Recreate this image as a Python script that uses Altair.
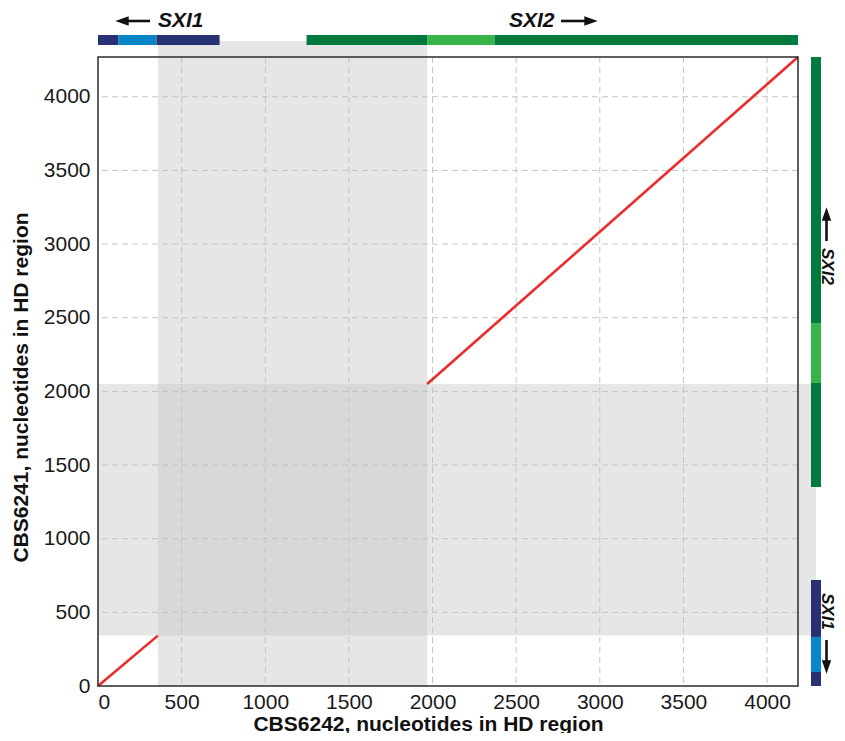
import altair as alt
import pandas as pd

# ---- data ----
X_MAX = 4185
Y_MAX = 4270

# dot-plot match segments (x: CBS6242, y: CBS6241)
seg_id = ["a", "a", "b", "b"]
seg_x = [0, 358, 1968, 4185]
seg_y = [0, 342, 2050, 4270]

# shaded (non-matching) regions
band_x = [358, 1968]
band_y = [342, 2050]

# gene bars along the x axis (top)
top_start = [0, 123, 350, 1247, 1968, 2371]
top_end = [123, 350, 727, 1968, 2371, 4185]
top_part = ["navy", "blue", "navy", "green", "lightgreen", "green"]

# gene bars along the y axis (right)
right_start = [0, 95, 333, 1351, 2057, 2464]
right_end = [95, 333, 720, 2057, 2464, 4270]
right_part = ["navy", "blue", "navy", "green", "lightgreen", "green"]

x_ticks = [500, 1000, 1500, 2000, 2500, 3000, 3500, 4000]
y_ticks = [500, 1000, 1500, 2000, 2500, 3000, 3500, 4000]

part_names = ["navy", "blue", "green", "lightgreen"]
part_colors = ["#283171", "#0b85c9", "#007a3e", "#38b449"]

X_TITLE = "CBS6242, nucleotides in HD region"
Y_TITLE = "CBS6241, nucleotides in HD region"

W, H = 700, 629
FONT = "Liberation Sans"

xs = alt.Scale(domain=[0, X_MAX], nice=False, zero=False)
ys = alt.Scale(domain=[0, Y_MAX], nice=False, zero=False)
x_axis = alt.Axis(title=X_TITLE, values=[0] + x_ticks, format="d", titleX=330)
y_axis = alt.Axis(title=Y_TITLE, values=[0] + y_ticks, format="d", titleY=330)
col = alt.Color("part:N", scale=alt.Scale(domain=part_names, range=part_colors), legend=None)


def X(f):
    return alt.X(f, type="quantitative", scale=xs, axis=x_axis)


def Y(f):
    return alt.Y(f, type="quantitative", scale=ys, axis=y_axis)


seg_df = pd.DataFrame({"seg": seg_id, "x": seg_x, "y": seg_y})
band_df = pd.DataFrame({"x0": [band_x[0]], "x1": [band_x[1]], "y0": [band_y[0]], "y1": [band_y[1]]})
top_df = pd.DataFrame({"s": top_start, "e": top_end, "part": top_part})
right_df = pd.DataFrame({"s": right_start, "e": right_end, "part": right_part})
xt_df = pd.DataFrame({"t": x_ticks})
yt_df = pd.DataFrame({"t": y_ticks})

GREY = "#e6e6e6"
GREY2 = "#d8d8d8"
RB0, RB1 = 713, 723      # right gene bar, px from plot left
RX = 728.5               # right labels centre, px from plot left

vband = alt.Chart(band_df).mark_rect(color=GREY).encode(
    x=X("x0"), x2="x1", y=alt.value(-16), y2=alt.value(H))
hband = alt.Chart(band_df).mark_rect(color=GREY).encode(
    y=Y("y0"), y2="y1", x=alt.value(0), x2=alt.value((RB0 + RB1) / 2))
overlap = alt.Chart(band_df).mark_rect(color=GREY2).encode(
    x=X("x0"), x2="x1", y=Y("y0"), y2="y1")

xgrid = alt.Chart(xt_df).mark_rule(color="#c4c4c4", strokeDash=[6, 4], strokeWidth=1).encode(x=X("t"))
ygrid = alt.Chart(yt_df).mark_rule(color="#c4c4c4", strokeDash=[6, 4], strokeWidth=1).encode(y=Y("t"))

top_bars = alt.Chart(top_df).mark_rect().encode(
    x=X("s"), x2="e", y=alt.value(-22), y2=alt.value(-12), color=col)
right_bars = alt.Chart(right_df).mark_rect().encode(
    y=Y("s"), y2="e", x=alt.value(RB0), x2=alt.value(RB1), color=col)

line = alt.Chart(seg_df).mark_line(color="#ee2b2b", strokeWidth=2.6).encode(
    x=X("x"), y=Y("y"), detail="seg:N")

frame = alt.Chart(band_df).mark_rect(fill=None, stroke="#2b2b2b", strokeWidth=1.5).encode(
    x=alt.value(0), x2=alt.value(W), y=alt.value(0), y2=alt.value(H))

# ---- gene labels with arrows ----
lbl = dict(font=FONT, fontSize=21, fontWeight="bold", fontStyle="italic", color="#111111")
lblr = dict(lbl, fontSize=17)
ann = alt.Chart(band_df)
t1 = ann.mark_text(align="left", baseline="middle", **lbl).encode(
    x=alt.value(60), y=alt.value(-36), text=alt.value("SXI1"))
t2 = ann.mark_text(align="left", baseline="middle", **lbl).encode(
    x=alt.value(411), y=alt.value(-36), text=alt.value("SXI2"))
t3 = ann.mark_text(align="left", baseline="middle", angle=90, **lblr).encode(
    x=alt.value(RX), y=alt.value(191), text=alt.value("SXI2"))
t4 = ann.mark_text(align="left", baseline="middle", angle=90, **lblr).encode(
    x=alt.value(RX), y=alt.value(536), text=alt.value("SXI1"))

shaft = dict(color="#111111", strokeWidth=2.6)
r1 = ann.mark_rule(**shaft).encode(x=alt.value(28), x2=alt.value(52), y=alt.value(-36))
r2 = ann.mark_rule(**shaft).encode(x=alt.value(463), x2=alt.value(488), y=alt.value(-36))
r3 = ann.mark_rule(**shaft).encode(y=alt.value(162), y2=alt.value(184), x=alt.value(RX))
r4 = ann.mark_rule(**shaft).encode(y=alt.value(583), y2=alt.value(605), x=alt.value(RX))

head = dict(filled=True, color="#111111", opacity=1, size=180, strokeWidth=0)
h1 = ann.mark_point(shape="M-1,0L1,-0.7L1,0.7Z", **head).encode(x=alt.value(24), y=alt.value(-36))
h2 = ann.mark_point(shape="M1,0L-1,-0.7L-1,0.7Z", **head).encode(x=alt.value(493), y=alt.value(-36))
h3 = ann.mark_point(shape="M0,-1L-0.7,1L0.7,1Z", **head).encode(x=alt.value(RX), y=alt.value(157))
h4 = ann.mark_point(shape="M0,1L-0.7,-1L0.7,-1Z", **head).encode(x=alt.value(RX), y=alt.value(610))

chart = alt.layer(
    vband, hband, overlap, xgrid, ygrid, top_bars, right_bars, line, frame,
    t1, t2, t3, t4, r1, r2, r3, r4, h1, h2, h3, h4,
).properties(
    width=W, height=H,
    autosize=alt.AutoSizeParams(type="none"),
    padding={"left": 90, "top": 49, "right": 39, "bottom": 47},
).configure_view(
    stroke=None
).configure_axis(
    grid=False, ticks=False, domain=False,
    labelFont=FONT, labelFontSize=21, labelColor="#1a1a1a",
    titleFont=FONT, titleFontSize=21, titleFontWeight="bold", titleColor="#111111",
).configure_axisX(
    labelPadding=5, titlePadding=1,
).configure_axisY(
    labelPadding=8, titlePadding=12,
)

chart.save("out.html", embed_options={"renderer": "svg", "actions": False})
